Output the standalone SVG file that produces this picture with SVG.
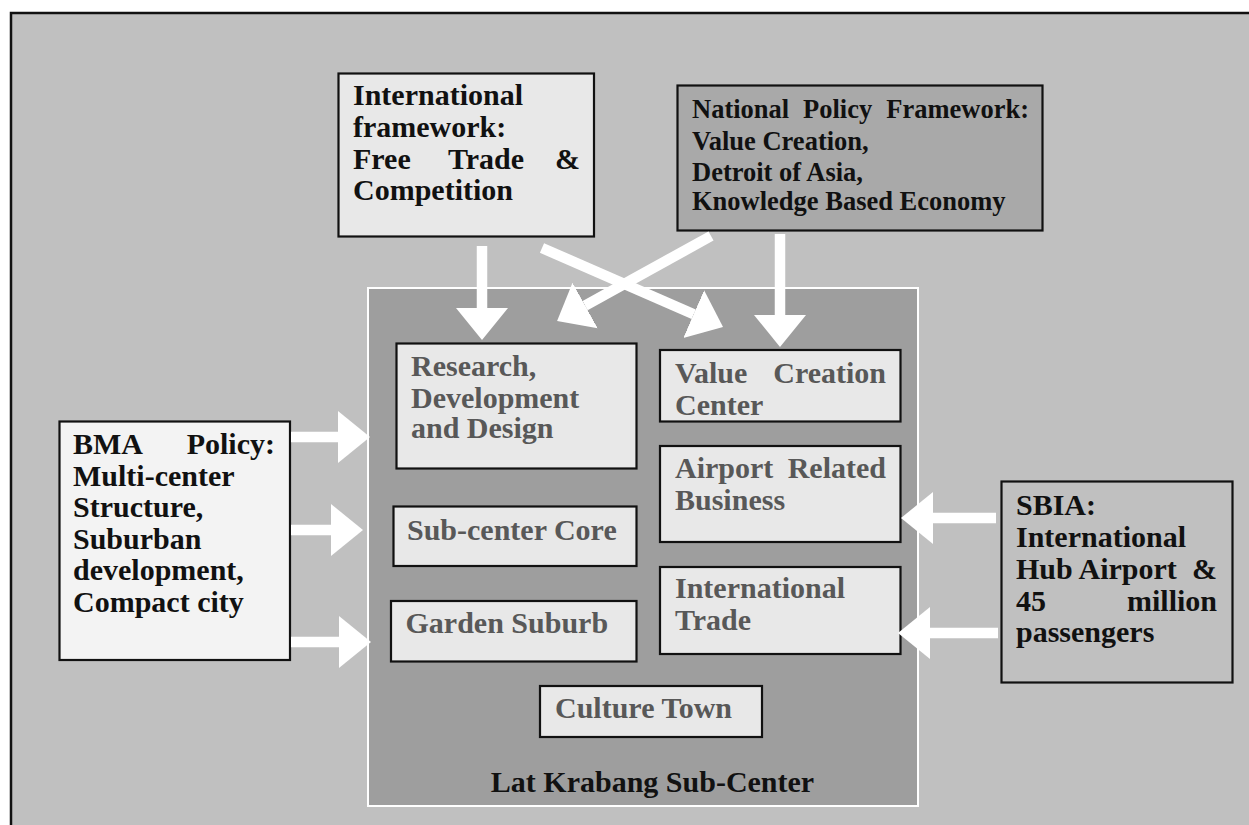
<svg xmlns="http://www.w3.org/2000/svg" width="1249" height="825" viewBox="0 0 1249 825">
  <defs>
    <marker id="head" markerUnits="userSpaceOnUse" markerWidth="34" markerHeight="56" viewBox="0 -28 34 56" refX="0" refY="0" orient="auto">
      <path d="M0,-26 L32,0 L0,26 Z" fill="#ffffff"/>
    </marker>
    <style>
      text { font-family: "Liberation Serif", "Times New Roman", serif; font-weight: bold; font-size: 30px; fill: #111111; }
      .end { text-anchor: end; }
      .small { font-size: 26.5px; }
      .grey { fill: #585858; }
      .frame { fill: #c0c0c0; stroke: #111111; stroke-width: 2.5; }
      .zone { fill: #9e9e9e; stroke: #ffffff; stroke-width: 2; }
      .box { stroke: #111111; stroke-width: 2.2; }
      .light { fill: #e8e8e8; }
      .pale { fill: #f3f3f3; }
      .mid { fill: #a9a9a9; }
      .bg { fill: #c0c0c0; }
      .arrow { stroke: #ffffff; stroke-width: 10.5; fill: none; marker-end: url(#head); }
    </style>
  </defs>

  <!-- outer frame -->
  <rect class="frame" x="11" y="13" width="1260" height="830"/>

  <!-- sub-center zone -->
  <g id="lat-krabang">
    <rect class="zone" x="368" y="288" width="550" height="518"/>
    <text x="652.5" y="792" text-anchor="middle">Lat Krabang Sub-Center</text>
  </g>

  <!-- outside influences -->
  <g id="international-framework">
    <rect class="box light" x="338.5" y="73.5" width="255.5" height="163"/>
    <text x="353" y="105">International</text>
    <text x="353" y="137">framework:</text>
    <text x="353" y="169">Free</text>
    <text x="448" y="169">Trade</text>
    <text class="end" x="580" y="169">&amp;</text>
    <text x="353" y="200">Competition</text>
  </g>

  <g id="national-policy">
    <rect class="box mid" x="677.5" y="85.5" width="365" height="145"/>
    <text class="small" x="692" y="117.5">National</text>
    <text class="small" x="803" y="117.5">Policy</text>
    <text class="small end" x="1029" y="117.5">Framework:</text>
    <text class="small" x="692" y="150">Value Creation,</text>
    <text class="small" x="692" y="180.5">Detroit of Asia,</text>
    <text class="small" x="692" y="210">Knowledge Based Economy</text>
  </g>

  <g id="bma-policy">
    <rect class="box pale" x="59.5" y="421.5" width="230.5" height="238.5"/>
    <text x="73" y="454">BMA</text>
    <text class="end" x="275" y="454">Policy:</text>
    <text x="73" y="485.5">Multi-center</text>
    <text x="73" y="517">Structure,</text>
    <text x="73" y="548.5">Suburban</text>
    <text x="73" y="580">development,</text>
    <text x="73" y="611.5">Compact city</text>
  </g>

  <g id="sbia">
    <rect class="box bg" x="1001.5" y="481.5" width="231" height="201"/>
    <text x="1016" y="515">SBIA:</text>
    <text x="1016" y="547">International</text>
    <text x="1016" y="579">Hub Airport</text>
    <text class="end" x="1217" y="579">&amp;</text>
    <text x="1016" y="611">45</text>
    <text class="end" x="1217" y="611">million</text>
    <text x="1016" y="642">passengers</text>
  </g>

  <!-- functions inside the sub-center -->
  <g id="research">
    <rect class="box light" x="396.5" y="343.5" width="240" height="125"/>
    <text class="grey" x="411" y="376">Research,</text>
    <text class="grey" x="411" y="408">Development</text>
    <text class="grey" x="411" y="438">and Design</text>
  </g>

  <g id="value-creation">
    <rect class="box light" x="660" y="350" width="240.5" height="71.5"/>
    <text class="grey" x="675" y="383">Value</text>
    <text class="grey end" x="886" y="383">Creation</text>
    <text class="grey" x="675" y="415">Center</text>
  </g>

  <g id="airport-business">
    <rect class="box light" x="660" y="446" width="240.5" height="96"/>
    <text class="grey" x="675" y="478">Airport</text>
    <text class="grey end" x="886" y="478">Related</text>
    <text class="grey" x="675" y="510">Business</text>
  </g>

  <g id="sub-center-core">
    <rect class="box light" x="393.5" y="506.5" width="243" height="59.5"/>
    <text class="grey" x="407" y="540">Sub-center Core</text>
  </g>

  <g id="international-trade">
    <rect class="box light" x="660" y="567" width="240.5" height="87"/>
    <text class="grey" x="675" y="598">International</text>
    <text class="grey" x="675" y="630">Trade</text>
  </g>

  <g id="garden-suburb">
    <rect class="box light" x="391" y="601" width="245.5" height="60.5"/>
    <text class="grey" x="405.5" y="633">Garden Suburb</text>
  </g>

  <g id="culture-town">
    <rect class="box light" x="540" y="686" width="222" height="51"/>
    <text class="grey" x="555" y="718">Culture Town</text>
  </g>

  <!-- influence arrows -->
  <g id="connectors">
    <line class="arrow" x1="482" y1="246" x2="482" y2="308"/>
    <line class="arrow" x1="780" y1="234" x2="780" y2="315"/>
    <line class="arrow" x1="542" y1="248" x2="693.7" y2="314.2"/>
    <line class="arrow" x1="711" y1="236" x2="585.1" y2="305.6"/>
    <line class="arrow" x1="291" y1="437" x2="338" y2="437"/>
    <line class="arrow" x1="291" y1="530" x2="331" y2="530"/>
    <line class="arrow" x1="291" y1="642" x2="339" y2="642"/>
    <line class="arrow" x1="996" y1="518" x2="933" y2="518"/>
    <line class="arrow" x1="998" y1="633" x2="930" y2="633"/>
  </g>
</svg>
